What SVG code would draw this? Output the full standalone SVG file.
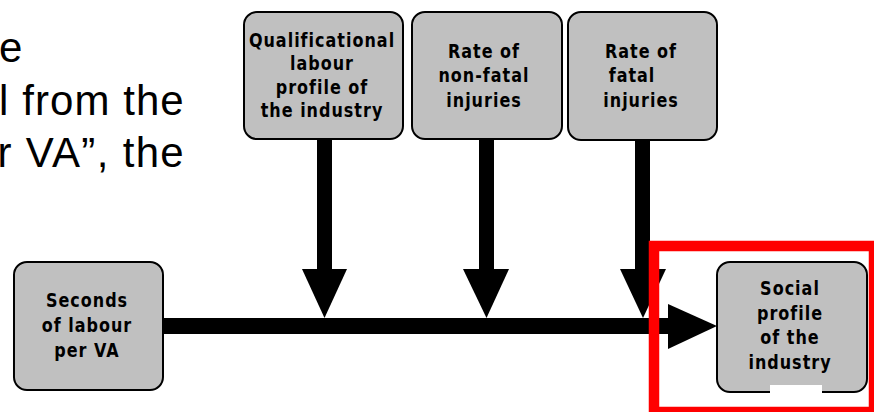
<svg xmlns="http://www.w3.org/2000/svg" width="874" height="412" viewBox="0 0 874 412">
<style>
.box{fill:#c0c0c0;stroke:#000;stroke-width:2}
.lbl{font-family:"DejaVu Sans",Verdana,sans-serif;font-weight:bold;font-size:16px;letter-spacing:1px;fill:#000;text-anchor:middle}
.big{font-family:"Liberation Sans",Arial,sans-serif;font-size:42px;fill:#000}
.ar{fill:#000}
</style>
<rect width="874" height="412" fill="#fff"/>
<g id="bodytext">
<text class="big" x="-1" y="62">e</text>
<text class="big" x="-1" y="114.5" textLength="184.7" lengthAdjust="spacing">l from the</text>
<text class="big" x="-2.5" y="167" textLength="186.2" lengthAdjust="spacing">r VA”, the</text>
</g>
<g id="connectors">
<rect class="ar" x="317" y="139" width="15" height="131"/>
<polygon class="ar" points="302,269 347,269 324.5,318"/>
<rect class="ar" x="479" y="139" width="15" height="131"/>
<polygon class="ar" points="463,269 509,269 486.5,318"/>
<rect class="ar" x="635" y="139" width="15" height="131"/>
<polygon class="ar" points="620,269 666,269 643,318"/>
<rect class="ar" x="163" y="318" width="507" height="16"/>
<polygon class="ar" points="668,304 717,326 668,349"/>
</g>
<g id="node-qual">
<rect class="box" x="244" y="12" width="159" height="127" rx="13"/>
<text class="lbl" transform="translate(322,46.5) scale(1,1.17)"><tspan x="0" y="0">Qualificational</tspan><tspan x="0" dy="20.2">labour</tspan><tspan x="0" dy="20.2">profile of</tspan><tspan x="0" dy="20.2">the industry</tspan></text>
</g>
<g id="node-nonfatal">
<rect class="box" x="412" y="12" width="150" height="127" rx="13"/>
<text class="lbl" transform="translate(484,58) scale(1,1.17)"><tspan x="0" y="0">Rate of</tspan><tspan x="0" dy="20.9">non-fatal</tspan><tspan x="0" dy="20.9">injuries</tspan></text>
</g>
<g id="node-fatal">
<rect class="box" x="568" y="12" width="149" height="128" rx="13"/>
<text class="lbl" transform="translate(641,58) scale(1,1.17)"><tspan x="0" y="0">Rate of</tspan><tspan x="-9" dy="20.9">fatal</tspan><tspan x="0" dy="20.9">injuries</tspan></text>
</g>
<g id="node-seconds">
<rect class="box" x="14" y="262" width="149" height="128" rx="13"/>
<text class="lbl" transform="translate(87,307) scale(1,1.17)"><tspan x="0" y="0">Seconds</tspan><tspan x="0" dy="21.4">of labour</tspan><tspan x="0" dy="21.4">per VA</tspan></text>
</g>
<g id="node-social">
<rect class="box" x="717" y="262" width="150" height="130" rx="13"/>
<rect x="770" y="385" width="52" height="9" fill="#fff"/>
<text class="lbl" transform="translate(790,295) scale(1,1.17)"><tspan x="0" y="0">Social</tspan><tspan x="0" dy="21.1">profile</tspan><tspan x="0" dy="21.1">of the</tspan><tspan x="0" dy="21.1">industry</tspan></text>
</g>
<g id="highlight">
<rect x="654" y="246" width="220" height="166" fill="none" stroke="#f00" stroke-width="10.5"/>
</g>
</svg>
